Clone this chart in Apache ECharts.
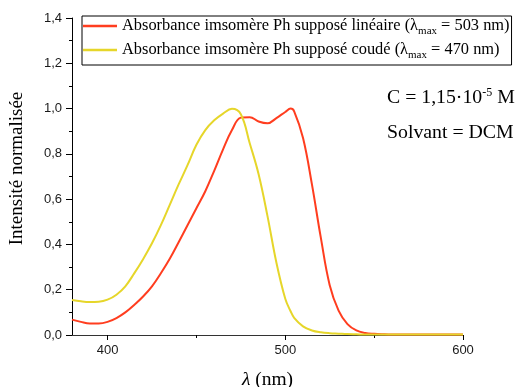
<!DOCTYPE html>
<html>
<head>
<meta charset="utf-8">
<script src="https://cdn.jsdelivr.net/npm/echarts@6/dist/echarts.min.js"></script>
<style>html,body{margin:0;padding:0;background:#fff;}#c{width:517px;height:387px;}</style>
</head>
<body>
<div id="c"></div>
<script>
const wavelengths = [380,385,390,395,400,405,410,415,420,425,430,435,440,445,450,455,460,465,470,475,480,485,490,495,500,503,505,510,515,520,525,530,535,540,545,550,555,560,565,570,575,580,585,590,595,600];
const linearValues = [0.068,0.058,0.051,0.051,0.058,0.075,0.100,0.133,0.170,0.215,0.273,0.337,0.410,0.485,0.560,0.635,0.725,0.820,0.905,0.960,0.962,0.943,0.935,0.958,0.985,1.000,0.988,0.870,0.665,0.430,0.220,0.108,0.048,0.020,0.009,0.005,0.003,0.002,0.002,0.002,0.002,0.002,0.002,0.002,0.002,0.002];
const bentValues = [0.155,0.149,0.146,0.147,0.156,0.178,0.215,0.272,0.335,0.405,0.485,0.575,0.665,0.750,0.840,0.905,0.948,0.978,0.999,0.975,0.847,0.710,0.525,0.320,0.160,0.105,0.076,0.038,0.020,0.012,0.008,0.006,0.004,0.003,0.002,0.002,0.002,0.002,0.002,0.002,0.002,0.002,0.002,0.002,0.002,0.002];
const xMajorTicks = [400,500,600];
const xMinorTicks = [450,550];
const seriesNames = ['Absorbance imsomère Ph supposé linéaire', 'Absorbance imsomère Ph supposé coudé'];
const lambdaMax = [503, 470];

const serif = 'Liberation Serif, Times New Roman, serif';
const sans = 'Liberation Sans, Arial, sans-serif';
const chart = echarts.init(document.getElementById('c'), null, {renderer: 'canvas'});

const pairs = vals => wavelengths.map((w, i) => [w, vals[i]]);

chart.setOption({
  animation: false,
  backgroundColor: '#fff',
  grid: {left: 72, right: 54, top: 18, bottom: 52, containLabel: false, outerBoundsMode: 'none'},
  legend: {
    orient: 'vertical',
    left: 82,
    top: 16,
    padding: [2, 2, 4, 1],
    itemGap: 5,
    itemWidth: 34,
    itemHeight: 2.5,
    icon: 'rect',
    borderColor: '#000',
    borderWidth: 1,
    selectedMode: false,
    data: seriesNames,
    formatter: function (name) {
      const i = seriesNames.indexOf(name);
      return '{t|' + name + ' (λ}{s|max}{t| = ' + lambdaMax[i] + ' nm)}';
    },
    textStyle: {
      rich: {
        t: {fontFamily: serif, fontSize: 16.4, color: '#000', lineHeight: 22},
        s: {fontFamily: serif, fontSize: 11, color: '#000', lineHeight: 11, verticalAlign: 'bottom'}
      }
    }
  },
  xAxis: [{
    type: 'value',
    min: 380, max: 600,
    position: 'bottom',
    name: '{i|λ} (nm)',
    nameLocation: 'middle',
    nameGap: 45,
    nameMoveOverlap: false,
    nameTextStyle: {
      fontFamily: serif, fontSize: 19.5, color: '#000', verticalAlign: 'middle',
      rich: {i: {fontFamily: serif, fontStyle: 'italic', fontSize: 19.5, color: '#000'}}
    },
    axisLine: {show: true, lineStyle: {color: '#333', width: 1.2}},
    axisTick: {show: true, customValues: xMajorTicks, length: 5, lineStyle: {color: '#000'}},
    axisLabel: {show: true, customValues: xMajorTicks, fontFamily: sans, fontSize: 13, color: '#1a1a1a', margin: 9},
    splitLine: {show: false}
  }, {
    type: 'value',
    min: 380, max: 600,
    position: 'bottom',
    offset: 0,
    axisLine: {show: false},
    axisTick: {show: true, customValues: xMinorTicks, length: 3, lineStyle: {color: '#000'}},
    axisLabel: {show: false},
    splitLine: {show: false}
  }],
  yAxis: {
    type: 'value',
    min: 0, max: 1.4, interval: 0.2,
    name: 'Intensité normalisée',
    nameLocation: 'middle',
    nameGap: 55,
    nameMoveOverlap: false,
    nameTextStyle: {fontFamily: serif, fontSize: 19, color: '#000', verticalAlign: 'middle', padding: [0, 0, 0, 16]},
    axisLine: {show: true, lineStyle: {color: '#000', width: 1}},
    axisTick: {show: true, length: 6, lineStyle: {color: '#000'}},
    minorTick: {show: true, splitNumber: 2, length: 3, lineStyle: {color: '#000'}},
    axisLabel: {
      fontFamily: sans, fontSize: 13, color: '#1a1a1a', margin: 10,
      formatter: v => v.toFixed(1).replace('.', ',')
    },
    splitLine: {show: false}
  },
  graphic: [{
    type: 'text', left: 387, top: 87,
    style: {
      text: '{a|C = 1,15·10}{p|-5}{a| M}',
      rich: {
        a: {fontFamily: serif, fontSize: 19.8, fill: '#000', lineHeight: 22},
        p: {fontFamily: serif, fontSize: 12, fill: '#000', lineHeight: 12, verticalAlign: 'top'}
      }
    }
  }, {
    type: 'text', left: 387, top: 123,
    style: {text: 'Solvant = DCM', fontFamily: serif, fontSize: 19.8, fill: '#000'}
  }],
  series: [{
    name: seriesNames[0], type: 'line', xAxisIndex: 0,
    data: pairs(linearValues), smooth: 0.4, symbol: 'none',
    lineStyle: {color: '#ff3d1f', width: 2}, itemStyle: {color: '#ff3d1f'}
  }, {
    name: seriesNames[1], type: 'line', xAxisIndex: 0,
    data: pairs(bentValues), smooth: 0.4, symbol: 'none',
    lineStyle: {color: '#e6d62a', width: 2}, itemStyle: {color: '#e6d62a'}
  }]
});
</script>
</body>
</html>
